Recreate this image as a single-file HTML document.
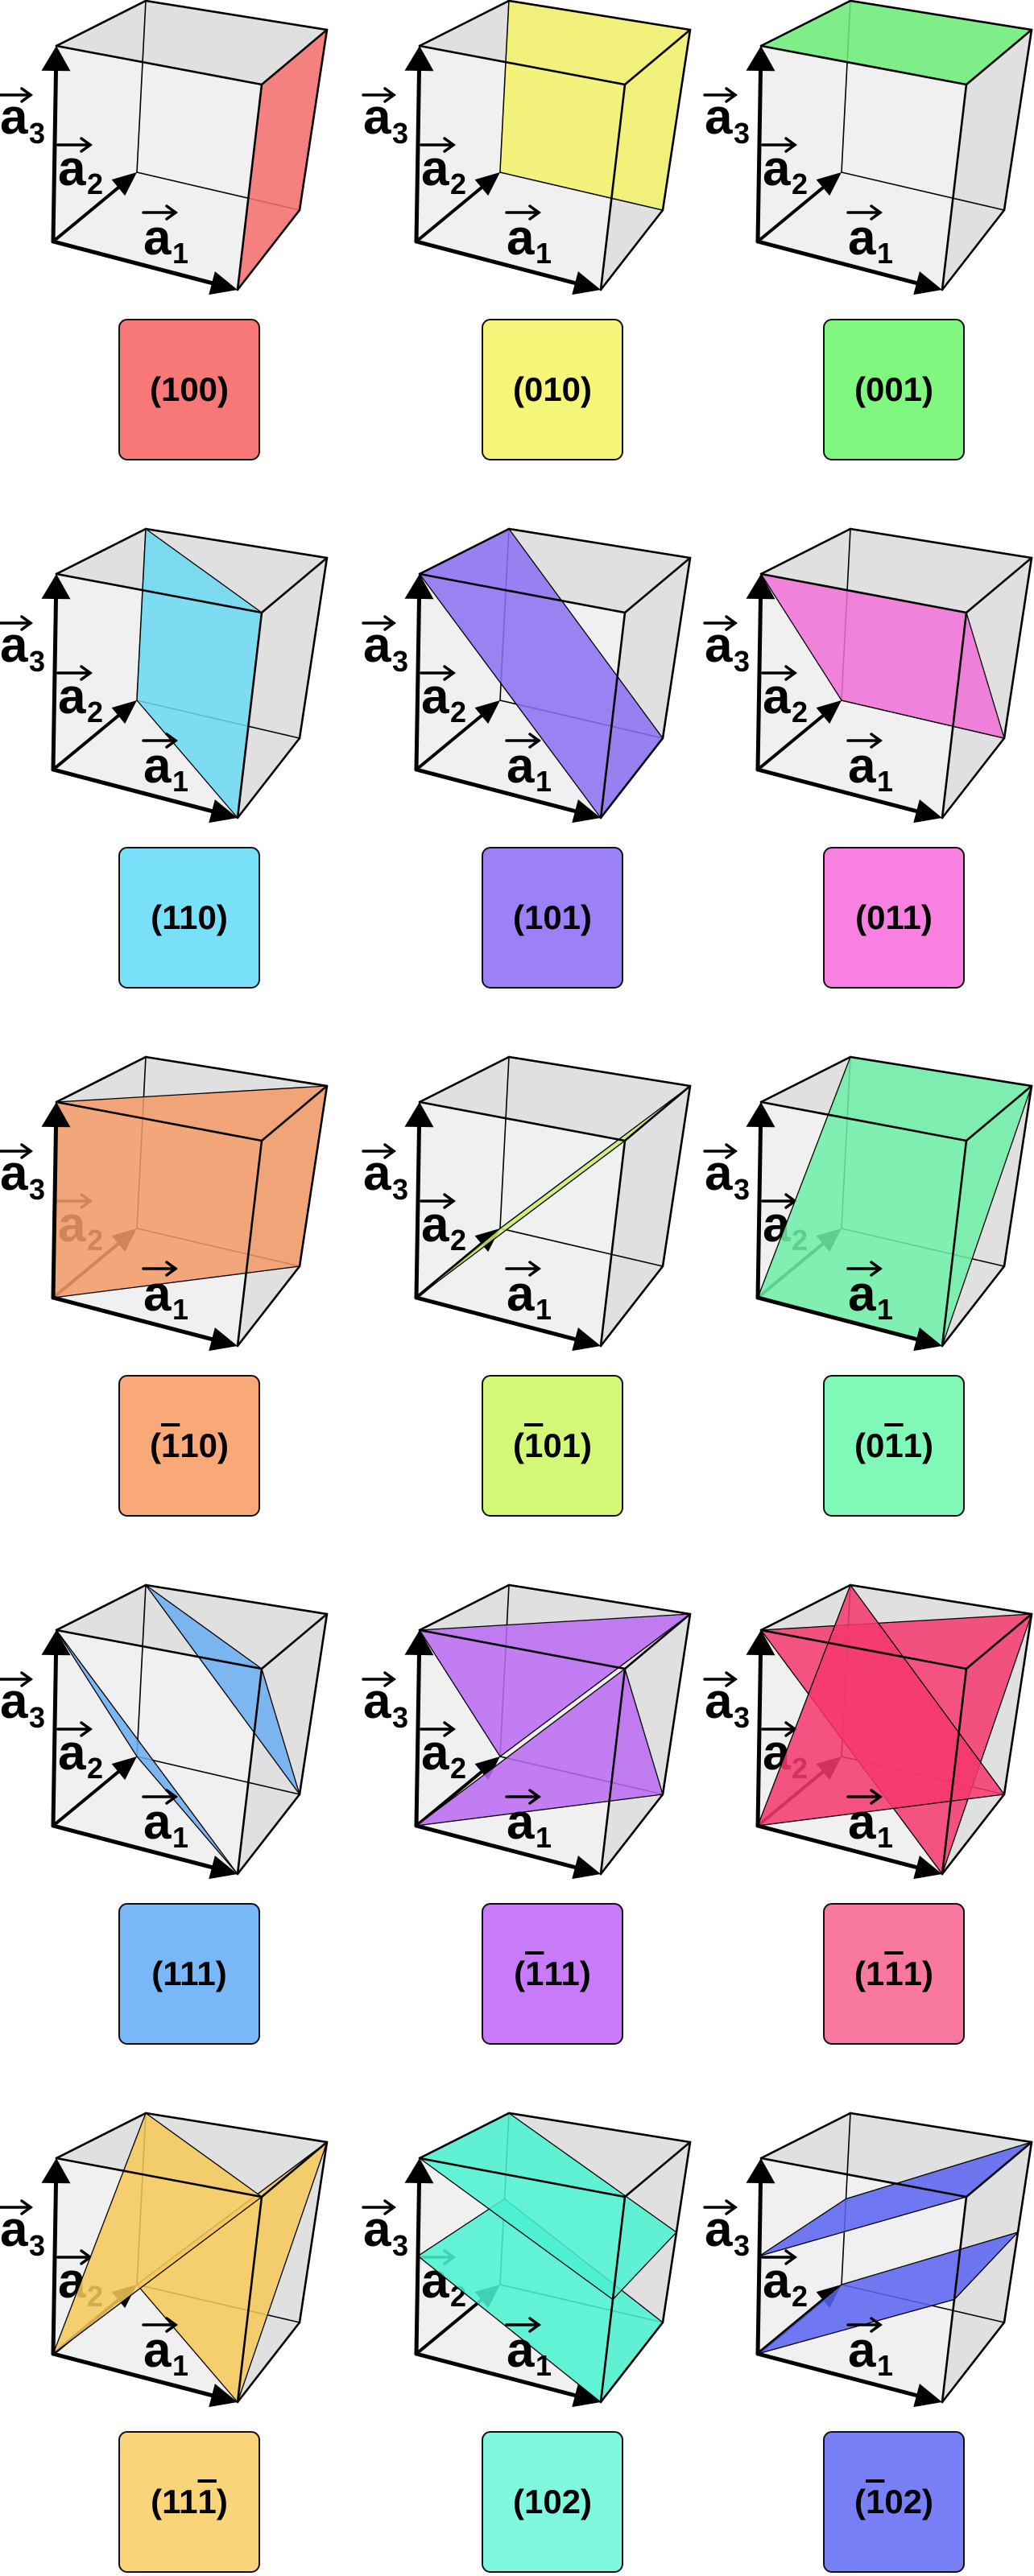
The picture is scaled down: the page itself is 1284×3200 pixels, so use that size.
<!DOCTYPE html>
<html><head><meta charset="utf-8"><style>
html,body{margin:0;padding:0;background:#fff;}
#wrap{position:relative;width:1284px;height:3200px;overflow:hidden;}
svg.c{position:absolute;width:430px;height:380px;overflow:visible;}
.bx{position:absolute;width:172px;height:172px;border:2px solid #111;border-radius:11px;box-sizing:content-box;display:flex;align-items:center;justify-content:center;font:bold 42px "Liberation Sans",sans-serif;color:#000;}
.ov{text-decoration:overline;}
svg text{font-family:"Liberation Sans",sans-serif;font-weight:bold;}
</style></head><body><div id="wrap">

<svg class="c" style="left:0;top:0"><g id="b0"></g><text x="72" y="230" font-size="62" id="t0">a</text><text x="108" y="241" font-size="36">2</text><g id="f0"></g><text x="178" y="316" font-size="62">a</text><text x="214" y="327" font-size="36">1</text><text x="0" y="166" font-size="62">a</text><text x="36" y="178" font-size="36">3</text></svg>
<svg class="c" style="left:451px;top:0"><g id="b1"></g><text x="72" y="230" font-size="62">a</text><text x="108" y="241" font-size="36">2</text><g id="f1"></g><text x="178" y="316" font-size="62">a</text><text x="214" y="327" font-size="36">1</text><text x="0" y="166" font-size="62">a</text><text x="36" y="178" font-size="36">3</text></svg>
<svg class="c" style="left:875px;top:0"><g id="b2"></g><text x="72" y="230" font-size="62">a</text><text x="108" y="241" font-size="36">2</text><g id="f2"></g><text x="178" y="316" font-size="62">a</text><text x="214" y="327" font-size="36">1</text><text x="0" y="166" font-size="62">a</text><text x="36" y="178" font-size="36">3</text></svg>

<svg class="c" style="left:0;top:656px"><g id="b3"></g><text x="72" y="230" font-size="62">a</text><text x="108" y="241" font-size="36">2</text><g id="f3"></g><text x="178" y="316" font-size="62">a</text><text x="214" y="327" font-size="36">1</text><text x="0" y="166" font-size="62">a</text><text x="36" y="178" font-size="36">3</text></svg>
<svg class="c" style="left:451px;top:656px"><g id="b4"></g><text x="72" y="230" font-size="62">a</text><text x="108" y="241" font-size="36">2</text><g id="f4"></g><text x="178" y="316" font-size="62">a</text><text x="214" y="327" font-size="36">1</text><text x="0" y="166" font-size="62">a</text><text x="36" y="178" font-size="36">3</text></svg>
<svg class="c" style="left:875px;top:656px"><g id="b5"></g><text x="72" y="230" font-size="62">a</text><text x="108" y="241" font-size="36">2</text><g id="f5"></g><text x="178" y="316" font-size="62">a</text><text x="214" y="327" font-size="36">1</text><text x="0" y="166" font-size="62">a</text><text x="36" y="178" font-size="36">3</text></svg>

<svg class="c" style="left:0;top:1312px"><g id="b6"></g><text x="72" y="230" font-size="62">a</text><text x="108" y="241" font-size="36">2</text><g id="f6"></g><text x="178" y="316" font-size="62">a</text><text x="214" y="327" font-size="36">1</text><text x="0" y="166" font-size="62">a</text><text x="36" y="178" font-size="36">3</text></svg>
<svg class="c" style="left:451px;top:1312px"><g id="b7"></g><text x="72" y="230" font-size="62">a</text><text x="108" y="241" font-size="36">2</text><g id="f7"></g><text x="178" y="316" font-size="62">a</text><text x="214" y="327" font-size="36">1</text><text x="0" y="166" font-size="62">a</text><text x="36" y="178" font-size="36">3</text></svg>
<svg class="c" style="left:875px;top:1312px"><g id="b8"></g><text x="72" y="230" font-size="62">a</text><text x="108" y="241" font-size="36">2</text><g id="f8"></g><text x="178" y="316" font-size="62">a</text><text x="214" y="327" font-size="36">1</text><text x="0" y="166" font-size="62">a</text><text x="36" y="178" font-size="36">3</text></svg>

<svg class="c" style="left:0;top:1968px"><g id="b9"></g><text x="72" y="230" font-size="62">a</text><text x="108" y="241" font-size="36">2</text><g id="f9"></g><text x="178" y="316" font-size="62">a</text><text x="214" y="327" font-size="36">1</text><text x="0" y="166" font-size="62">a</text><text x="36" y="178" font-size="36">3</text></svg>
<svg class="c" style="left:451px;top:1968px"><g id="b10"></g><text x="72" y="230" font-size="62">a</text><text x="108" y="241" font-size="36">2</text><g id="f10"></g><text x="178" y="316" font-size="62">a</text><text x="214" y="327" font-size="36">1</text><text x="0" y="166" font-size="62">a</text><text x="36" y="178" font-size="36">3</text></svg>
<svg class="c" style="left:875px;top:1968px"><g id="b11"></g><text x="72" y="230" font-size="62">a</text><text x="108" y="241" font-size="36">2</text><g id="f11"></g><text x="178" y="316" font-size="62">a</text><text x="214" y="327" font-size="36">1</text><text x="0" y="166" font-size="62">a</text><text x="36" y="178" font-size="36">3</text></svg>

<svg class="c" style="left:0;top:2624px"><g id="b12"></g><text x="72" y="230" font-size="62">a</text><text x="108" y="241" font-size="36">2</text><g id="f12"></g><text x="178" y="316" font-size="62">a</text><text x="214" y="327" font-size="36">1</text><text x="0" y="166" font-size="62">a</text><text x="36" y="178" font-size="36">3</text></svg>
<svg class="c" style="left:451px;top:2624px"><g id="b13"></g><text x="72" y="230" font-size="62">a</text><text x="108" y="241" font-size="36">2</text><g id="f13"></g><text x="178" y="316" font-size="62">a</text><text x="214" y="327" font-size="36">1</text><text x="0" y="166" font-size="62">a</text><text x="36" y="178" font-size="36">3</text></svg>
<svg class="c" style="left:875px;top:2624px"><g id="b14"></g><text x="72" y="230" font-size="62">a</text><text x="108" y="241" font-size="36">2</text><g id="f14"></g><text x="178" y="316" font-size="62">a</text><text x="214" y="327" font-size="36">1</text><text x="0" y="166" font-size="62">a</text><text x="36" y="178" font-size="36">3</text></svg>

<div class="bx" style="left:147px;top:396px;background:#f87878">(100)</div>
<div class="bx" style="left:598px;top:396px;background:#f5f57a">(010)</div>
<div class="bx" style="left:1022px;top:396px;background:#80f880">(001)</div>
<div class="bx" style="left:147px;top:1052px;background:#78e0f8">(110)</div>
<div class="bx" style="left:598px;top:1052px;background:#9b80f8">(101)</div>
<div class="bx" style="left:1022px;top:1052px;background:#f880e0">(011)</div>
<div class="bx" style="left:147px;top:1708px;background:#f9a878">(<span class="ov">1</span>10)</div>
<div class="bx" style="left:598px;top:1708px;background:#d3f878">(<span class="ov">1</span>01)</div>
<div class="bx" style="left:1022px;top:1708px;background:#80f8b8">(0<span class="ov">1</span>1)</div>
<div class="bx" style="left:147px;top:2364px;background:#78b8f8">(111)</div>
<div class="bx" style="left:598px;top:2364px;background:#c87af8">(<span class="ov">1</span>11)</div>
<div class="bx" style="left:1022px;top:2364px;background:#f878a0">(1<span class="ov">1</span>1)</div>
<div class="bx" style="left:147px;top:3020px;background:#f9d478">(11<span class="ov">1</span>)</div>
<div class="bx" style="left:598px;top:3020px;background:#80f8e0">(102)</div>
<div class="bx" style="left:1022px;top:3020px;background:#7880f8">(<span class="ov">1</span>02)</div>
</div>
<script>
var V={"000":[66,300],"100":[295,360],"010":[170,214],"001":[70,57],"110":[372,261],"101":[325,105],"011":[181,1],"111":[406,37]};
function P(x,y,z){var r=[0,0];for(var i=0;i<2;i++)for(var j=0;j<2;j++)for(var k=0;k<2;k++){var w=(i?x:1-x)*(j?y:1-y)*(k?z:1-z);var v=V[""+i+j+k];r[0]+=w*v[0];r[1]+=w*v[1];}return r;}
function pts(a){return a.map(function(p){var q=P(p[0],p[1],p[2]);return q[0].toFixed(1)+","+q[1].toFixed(1);}).join(" ");}
function poly(a,f,s,sw,op){return '<polygon points="'+pts(a)+'" fill="'+f+'" stroke="'+(s||"none")+'" stroke-width="'+(sw||0)+'" stroke-linejoin="round"'+(op?' fill-opacity="'+op+'"':'')+'/>';}
function ln(a,b,w){var p=P.apply(null,a),q=P.apply(null,b);return '<line x1="'+p[0]+'" y1="'+p[1]+'" x2="'+q[0]+'" y2="'+q[1]+'" stroke="#000" stroke-width="'+w+'" stroke-linecap="round"/>';}
function arrow(a,b,w,hl,hw){var dx=b[0]-a[0],dy=b[1]-a[1],L=Math.hypot(dx,dy),ux=dx/L,uy=dy/L,nx=-uy,ny=ux;var bx=b[0]-ux*hl,by=b[1]-uy*hl;
return '<line x1="'+a[0]+'" y1="'+a[1]+'" x2="'+(bx+ux*2)+'" y2="'+(by+uy*2)+'" stroke="#000" stroke-width="'+w+'" stroke-linecap="round"/><polygon points="'+b[0]+','+b[1]+' '+(bx+nx*hw/2)+','+(by+ny*hw/2)+' '+(bx-nx*hw/2)+','+(by-ny*hw/2)+'" fill="#000"/>';}
function oarrow(x1,x2,y){return '<g stroke="#000" stroke-width="3.5" fill="none" stroke-linecap="round"><line x1="'+x1+'" y1="'+y+'" x2="'+x2+'" y2="'+y+'"/><polyline points="'+(x2-11)+','+(y-8)+' '+x2+','+y+' '+(x2-11)+','+(y+8)+'"/></g>';}
var cols=["#f87070","#f2f26a","#6ef07a","#6ad8f2","#8c70f2","#f070d8","#f49a68","#c8f066","#6ef0a8","#6aaef2","#bb6af2","#f5386e","#f6c858","#4af2d2","#5a64f0"];
var PL=[
[[[1,0,0],[1,1,0],[1,1,1],[1,0,1]]],
[[[0,1,0],[1,1,0],[1,1,1],[0,1,1]]],
[[[0,0,1],[1,0,1],[1,1,1],[0,1,1]]],
[[[1,0,0],[0,1,0],[0,1,1],[1,0,1]]],
[[[1,0,0],[1,1,0],[0,1,1],[0,0,1]]],
[[[0,1,0],[1,1,0],[1,0,1],[0,0,1]]],
[[[0,0,0],[1,1,0],[1,1,1],[0,0,1]]],
[[[0,0,0],[1,0,1],[1,1,1],[0,1,0]]],
[[[0,0,0],[1,0,0],[1,1,1],[0,1,1]]],
[[[1,0,0],[0,1,0],[0,0,1]],[[1,1,0],[1,0,1],[0,1,1]]],
[[[0,1,0],[0,0,1],[1,1,1]],[[0,0,0],[1,1,0],[1,0,1]]],
[[[1,0,0],[0,0,1],[1,1,1]],[[0,0,0],[0,1,1],[1,1,0]]],
[[[1,0,0],[0,1,0],[1,1,1]],[[0,0,0],[1,0,1],[0,1,1]]],
[[[0,0,.5],[1,0,0],[1,1,0],[0,1,.5]],[[0,0,1],[1,0,.5],[1,1,.5],[0,1,1]]],
[[[0,0,0],[1,0,.5],[1,1,.5],[0,1,0]],[[0,0,.5],[1,0,1],[1,1,1],[0,1,.5]]]];
for(var i=0;i<15;i++){
var b='';
b+=poly([[0,0,0],[1,0,0],[1,1,0],[1,1,1],[0,1,1],[0,0,1]],"#f0f0f0");
b+=poly([[0,0,1],[1,0,1],[1,1,1],[0,1,1]],"#e0e0e0");
b+=poly([[1,0,0],[1,1,0],[1,1,1],[1,0,1]],"#e0e0e0");
b+=ln([0,1,0],[0,1,1],1.6)+ln([0,1,0],[1,1,0],1.6);
b+=arrow(V["000"],V["010"],4,30,26);
b+=oarrow(72,112,180);
document.getElementById("b"+i).innerHTML=b;
var f='';
PL[i].forEach(function(p){f+=poly(p,cols[i],"#000",1.3,0.86);});
var E=[["001","101"],["101","111"],["111","011"],["011","001"],["101","100"],["111","110"],["110","100"]];
E.forEach(function(e){var a=e[0].split("").map(Number),c=e[1].split("").map(Number);f+=ln(a,c,2.6);});
f+=arrow(V["000"],V["100"],5,33,30);
f+=arrow(V["000"],V["001"],5,31,36);
f+=oarrow(178,218,264)+oarrow(0,38,118);
document.getElementById("f"+i).innerHTML=f;
}
</script>
</body></html>
